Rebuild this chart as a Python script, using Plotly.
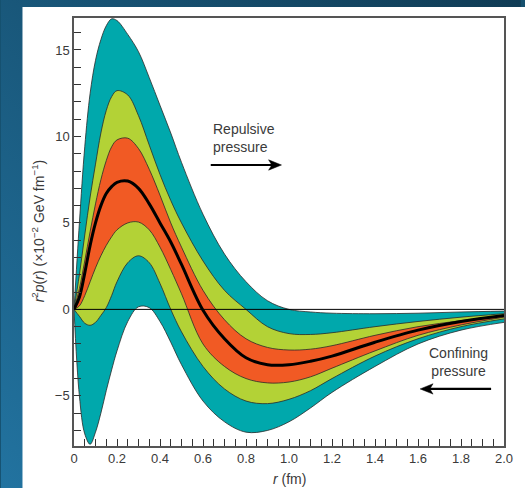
import plotly.graph_objects as go

# radial grid (fm)
r = [0, 0.025, 0.05, 0.075, 0.1, 0.125, 0.15, 0.175, 0.2, 0.25, 0.3, 0.35, 0.4, 0.45,
     0.5, 0.6, 0.7, 0.8, 0.9, 1.0, 1.1, 1.2, 1.4, 1.6, 1.8, 2.0]

# r^2 p(r) in units of 1e-2 GeV fm^-1
teal_hi = [0, 5.0, 9.4, 12.5, 14.4, 15.6, 16.4, 16.8, 16.7, 15.9, 14.9, 13.4, 11.8, 10.2,
           8.5, 5.5, 3.2, 1.6, 0.5, 0.0, -0.15, -0.22, -0.25, -0.22, -0.15, -0.1]
teal_lo = [0, -5.0, -7.2, -7.8, -7.1, -6.0, -4.7, -3.5, -2.4, -0.7, 0.15, 0.1, -0.7, -1.9,
           -3.2, -5.3, -6.5, -7.1, -7.0, -6.5, -5.7, -4.8, -3.3, -2.0, -1.2, -0.75]
green_hi = [0, 2.0, 4.3, 6.5, 8.4, 10.2, 11.5, 12.3, 12.65, 12.4, 11.2, 9.5, 7.8, 6.3,
            5.0, 2.8, 1.1, 0.0, -1.0, -1.4, -1.45, -1.35, -1.0, -0.7, -0.45, -0.25]
green_lo = [0, -0.4, -0.8, -0.92, -0.75, -0.35, 0.1, 0.8, 1.6, 2.7, 3.1, 2.7, 1.5, 0.0,
            -1.3, -3.3, -4.6, -5.3, -5.45, -5.2, -4.7, -4.0, -2.7, -1.7, -1.0, -0.55]
orange_hi = [0, 1.2, 2.8, 4.5, 6.1, 7.5, 8.6, 9.4, 9.8, 9.9, 9.3, 8.1, 6.6, 5.0,
             3.6, 1.1, -0.6, -1.7, -2.2, -2.35, -2.3, -2.1, -1.5, -1.0, -0.65, -0.35]
orange_lo = [0, 0.2, 0.8, 1.6, 2.4, 3.1, 3.7, 4.2, 4.6, 5.0, 5.05, 4.6, 3.6, 2.3,
             0.9, -2.0, -3.3, -4.0, -4.25, -4.2, -3.9, -3.4, -2.4, -1.5, -0.9, -0.45]
central = [0, 0.7, 2.1, 3.7, 5.0, 6.0, 6.7, 7.1, 7.35, 7.42, 7.0, 6.1, 5.0, 3.9,
           2.6, -0.05, -1.7, -2.8, -3.2, -3.2, -3.0, -2.7, -1.9, -1.2, -0.7, -0.35]

x_ticks = [0, 0.2, 0.4, 0.6, 0.8, 1.0, 1.2, 1.4, 1.6, 1.8, 2.0]
x_ticktext = ["0", "0.2", "0.4", "0.6", "0.8", "1.0", "1.2", "1.4", "1.6", "1.8", "2.0"]
y_ticks = [-5, 0, 5, 10, 15]
y_ticktext = ["\u22125", "0", "5", "10", "15"]

# annotation arrows (data coords): start, end, height
arrow_rep = (0.636, 0.965, 8.35)
arrow_conf = (1.94, 1.61, -4.6)

TEAL = "#00A8AC"
GREEN = "#B3D236"
ORANGE = "#F15A24"
EDGE = "#2a2a2a"
FONT = "Liberation Sans, Arial, sans-serif"

fig = go.Figure()

def band(lo, hi, color):
    ln = dict(color=EDGE, width=0.8, shape="spline", smoothing=1.0)
    fig.add_trace(go.Scatter(x=r, y=lo, mode="lines", line=ln, hoverinfo="skip", showlegend=False))
    fig.add_trace(go.Scatter(x=r, y=hi, mode="lines", line=ln, fill="tonexty",
                             fillcolor=color, hoverinfo="skip", showlegend=False))

band(teal_lo, teal_hi, TEAL)
band(green_lo, green_hi, GREEN)
band(orange_lo, orange_hi, ORANGE)
fig.add_trace(go.Scatter(x=r, y=central, mode="lines",
                         line=dict(color="black", width=3, shape="spline", smoothing=1.0),
                         hoverinfo="skip", showlegend=False))

# background gradient
svg = ("data:image/svg+xml;utf8,<svg xmlns='http://www.w3.org/2000/svg' width='525' height='488'>"
       "<defs><linearGradient id='g' x1='1' y1='0' x2='0' y2='1'>"
       "<stop offset='0' stop-color='%23103c55'/><stop offset='1' stop-color='%232273a0'/>"
       "</linearGradient></defs><rect width='525' height='488' fill='url(%23g)'/></svg>")

W, H = 525, 488
L, R, T, B = 74, 17, 18, 42
pw, ph = W - L - R, H - T - B

def px(xp):
    return (xp - L) / pw

def py(yp):
    return (H - B - yp) / ph

fig.add_layout_image(dict(source=svg, xref="paper", yref="paper", x=px(0), y=py(0),
                          sizex=W / pw, sizey=H / ph, sizing="stretch", layer="below",
                          xanchor="left", yanchor="top"))
fig.add_shape(type="rect", xref="paper", yref="paper", x0=px(22), x1=px(530), y0=py(495), y1=py(7),
              fillcolor="white", line=dict(width=0), layer="below")
fig.add_shape(type="line", xref="paper", yref="y", x0=0, x1=1, y0=0, y1=0,
              line=dict(color="black", width=1), layer="above")

# arrows as shapes (shaft + triangular head)
def arrow(x0, x1, yv):
    d = 1 if x1 > x0 else -1
    hl, hw = 0.06, 0.3
    fig.add_shape(type="line", xref="x", yref="y", x0=x0, x1=x1 - d * hl * 0.6, y0=yv, y1=yv,
                  line=dict(color="black", width=2.2), layer="above")
    fig.add_shape(type="path", xref="x", yref="y",
                  path=f"M {x1} {yv} L {x1 - d*hl} {yv + hw} L {x1 - d*hl*0.75} {yv} L {x1 - d*hl} {yv - hw} Z",
                  fillcolor="black", line=dict(color="black", width=0.5), layer="above")

arrow(*arrow_rep)
arrow(*arrow_conf)

txt = dict(family=FONT, size=14, color="#3a3a3a")
fig.add_annotation(x=0.636, y=9.9, xref="x", yref="y", text="Repulsive<br>pressure",
                   showarrow=False, xanchor="left", yanchor="middle", align="left", font=txt)
fig.add_annotation(x=1.79, y=-3.05, xref="x", yref="y", text="Confining<br>pressure",
                   showarrow=False, xanchor="center", yanchor="middle", align="center", font=txt)

# axis titles
fig.add_annotation(x=px(38), y=py(231), xref="paper", yref="paper", textangle=-90,
                   text="<i>r</i><sup>2</sup><i>p</i>(<i>r</i>) (\u00d710<sup>\u22122</sup> GeV fm<sup>\u22121</sup>)",
                   showarrow=False, xanchor="center", yanchor="middle",
                   font=dict(family=FONT, size=14, color="#3a3a3a"))
fig.add_annotation(x=0.5, y=py(479), xref="paper", yref="paper", text="<i>r</i> (fm)",
                   showarrow=False, xanchor="center", yanchor="middle",
                   font=dict(family=FONT, size=14, color="#3a3a3a"))

axis_common = dict(showgrid=False, zeroline=False, showline=True, linecolor="#555",
                   linewidth=1.5, mirror=True, ticks="inside", ticklen=7, tickwidth=1,
                   tickcolor="#333", tickfont=dict(family=FONT, size=13, color="#3a3a3a"))
fig.update_xaxes(range=[0, 2.0], tickvals=x_ticks, ticktext=x_ticktext,
                 minor=dict(dtick=0.05, tick0=0, ticks="inside", ticklen=7, tickwidth=1, tickcolor="#333"),
                 **axis_common)
fig.update_yaxes(range=[-7.9, 16.85], tickvals=y_ticks, ticktext=y_ticktext,
                 minor=dict(dtick=1, tick0=0, ticks="inside", ticklen=7, tickwidth=1, tickcolor="#333"),
                 **axis_common)

fig.update_layout(width=W, height=H, margin=dict(l=L, r=R, t=T, b=B), autosize=False,
                  paper_bgcolor="#15506e", plot_bgcolor="rgba(0,0,0,0)", showlegend=False)

fig.write_html("out.html")
